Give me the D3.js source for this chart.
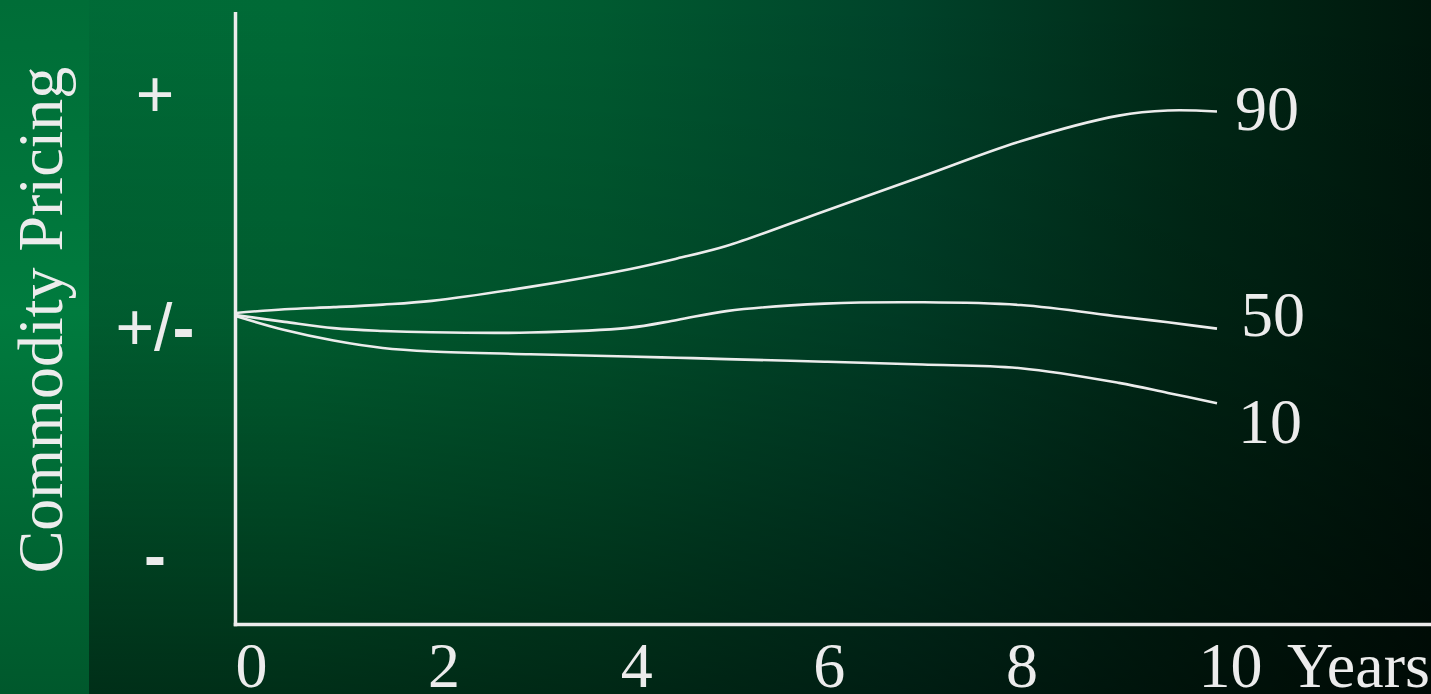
<!DOCTYPE html>
<html>
<head>
<meta charset="utf-8">
<script src="https://cdn.jsdelivr.net/npm/d3@7/dist/d3.min.js"></script>
<style>
  html, body { margin: 0; padding: 0; background: #00301a; overflow: hidden; }
  svg { display: block; }
</style>
</head>
<body>
<svg id="chart" width="1431" height="694"></svg>
<script>
// ---------------- data ----------------
const years = [0, 0.5, 1, 1.5, 2, 3, 4, 4.5, 5, 6, 7, 8, 9, 9.5, 10];
const p90 = [5.8, 7.4, 8.3, 9.4, 11.0, 17.0, 24.5, 29.2, 34.5, 49.5, 64.5, 79.5, 90.5, 92.7, 92.3];
const p50 = [4.9, 2.0, -0.7, -1.9, -2.5, -2.6, -0.6, 2.8, 6.6, 9.8, 10.4, 9.2, 4.3, 1.8, -0.9];
const p10 = [4.5, -1.5, -6.0, -9.2, -10.7, -11.9, -12.9, -13.4, -14.0, -15.1, -16.3, -17.9, -24.2, -28.5, -32.9];
const seriesNames = ["90", "50", "10"];
const xTickValues = [0, 2, 4, 6, 8, 10];
const xUnitLabel = "Years";
const yTickValues = [100, 0, -100];
const yTickLabels = ["+", "+/-", "-"];
const yTitle = "Commodity Pricing";

// ---------------- setup ----------------
const W = 1431, H = 694;
const svg = d3.select("#chart");
const defs = svg.append("defs");

const hg = defs.append("linearGradient").attr("id", "hGrad")
  .attr("x1", 0).attr("y1", 0).attr("x2", 1).attr("y2", 0);
[[0, "#006b37"], [0.21, "#006a36"], [0.42, "#005a30"], [0.63, "#00432a"], [0.84, "#002816"], [1, "#00170c"]]
  .forEach(([o, c]) => hg.append("stop").attr("offset", o).attr("stop-color", c));

const vg = defs.append("linearGradient").attr("id", "vGrad")
  .attr("x1", 0).attr("y1", 0).attr("x2", 0).attr("y2", 1);
[[0, 0], [0.45, 0.14], [0.6, 0.25], [1, 0.56]]
  .forEach(([o, a]) => vg.append("stop").attr("offset", o).attr("stop-color", "#000").attr("stop-opacity", a));

const bg = defs.append("linearGradient").attr("id", "bandGrad")
  .attr("x1", 0).attr("y1", 0).attr("x2", 0).attr("y2", 1);
[[0, "#006d37"], [0.45, "#007b3e"], [1, "#00582c"]]
  .forEach(([o, c]) => bg.append("stop").attr("offset", o).attr("stop-color", c));

svg.append("rect").attr("width", W).attr("height", H).attr("fill", "url(#hGrad)");
svg.append("rect").attr("width", W).attr("height", H).attr("fill", "url(#vGrad)");
svg.append("rect").attr("width", 89).attr("height", H).attr("fill", "url(#bandGrad)");

const ink = "#ececec";
const serif = "'Liberation Serif', 'Times New Roman', serif";
const sans = "'Liberation Sans', Arial, sans-serif";
const frame = { left: 235.5, top: 12, bottom: 624.5, right: W };

const x = d3.scaleLinear().domain([0, 10]).range([235.5, 1217]);
const xLab = d3.scaleLinear().domain([0, 10]).range([235, 1198]);
const y = d3.scaleLinear().domain([-100, 100]).range([559.5, 93.5]);

// ---------------- axes ----------------
svg.append("line")
  .attr("x1", frame.left).attr("x2", frame.left)
  .attr("y1", frame.top).attr("y2", frame.bottom + 1.75)
  .attr("stroke", ink).attr("stroke-width", 3.5);
svg.append("line")
  .attr("x1", frame.left - 1.75).attr("x2", frame.right)
  .attr("y1", frame.bottom).attr("y2", frame.bottom)
  .attr("stroke", ink).attr("stroke-width", 3.5);

// x tick labels (via d3 axis)
const xAxis = d3.axisBottom(xLab).tickValues(xTickValues).tickSize(0).tickFormat(d3.format("d"));
const gx = svg.append("g").call(xAxis);
gx.select(".domain").remove();
gx.selectAll("text")
  .attr("y", 687).attr("dy", null)
  .attr("text-anchor", "start")
  .attr("font-family", serif)
  .attr("font-size", 64)
  .attr("fill", ink);
svg.append("text")
  .attr("x", 1287).attr("y", 687)
  .attr("font-family", serif)
  .attr("font-size", 64).attr("fill", ink)
  .text(xUnitLabel);

// y tick labels (via d3 axis)
const yAxis = d3.axisLeft(y).tickValues(yTickValues).tickSize(0).tickFormat(() => "");
const gy = svg.append("g").attr("transform", "translate(155,0)").call(yAxis);
gy.select(".domain").remove();
gy.selectAll("text").each(function (d, i) {
  const t = d3.select(this)
    .attr("x", 0)
    .attr("dy", d === -100 ? "0.27em" : "0.35em")
    .attr("text-anchor", "middle")
    .attr("font-family", sans)
    .attr("font-size", 66)
    .attr("fill", ink);
  const parts = yTickLabels[i].split(/(-)/).filter(s => s.length);
  parts.forEach(p => {
    const ts = t.append("tspan").text(p);
    if (p === "-") ts.attr("font-weight", "bold");
  });
});

// y title
svg.append("text")
  .attr("transform", "translate(62,320) rotate(-90)")
  .attr("text-anchor", "middle")
  .attr("font-family", serif)
  .attr("font-size", 64).attr("fill", ink)
  .text(yTitle);

// ---------------- curves ----------------
const series = [p90, p50, p10];
const line = d3.line()
  .x((d, i) => x(years[i]))
  .y(d => y(d))
  .curve(d3.curveCatmullRom.alpha(0.5));

svg.append("g").selectAll("path").data(series).join("path")
  .attr("d", d => line(d))
  .attr("fill", "none")
  .attr("stroke", ink)
  .attr("stroke-width", 2.6);

// end labels
const labelOffset = { "90": [18, 19], "50": [24, 7], "10": [21, 40] };
svg.append("g").selectAll("text").data(series).join("text")
  .attr("x", (d, i) => x(years[years.length - 1]) + labelOffset[seriesNames[i]][0])
  .attr("y", (d, i) => y(d[d.length - 1]) + labelOffset[seriesNames[i]][1])
  .attr("font-family", serif)
  .attr("font-size", 64).attr("fill", ink)
  .text((d, i) => seriesNames[i]);
</script>
</body>
</html>
